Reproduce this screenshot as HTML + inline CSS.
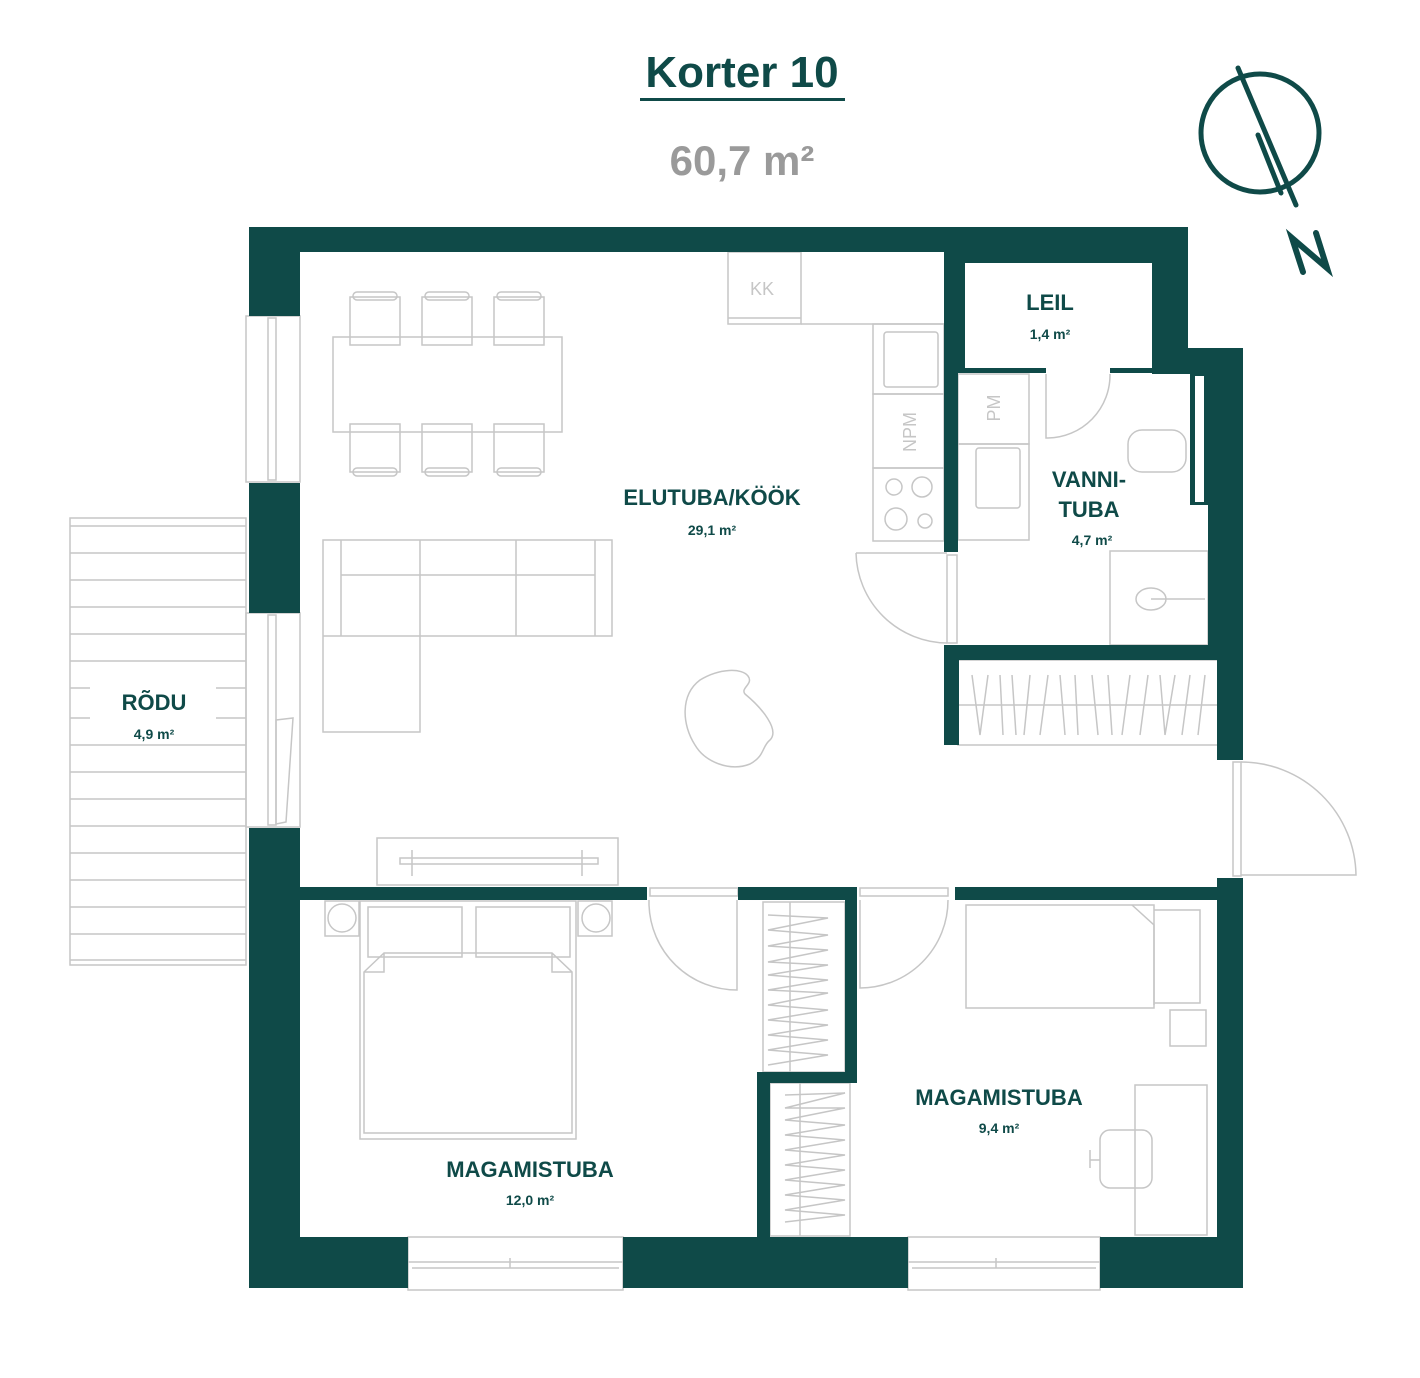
<!DOCTYPE html>
<html><head><meta charset="utf-8"><style>
html,body{margin:0;padding:0;background:#fff;}
svg{display:block;}
text{font-family:"Liberation Sans",sans-serif;fill:#0f4a48;}
</style></head><body>
<svg width="1420" height="1378" viewBox="0 0 1420 1378" xmlns="http://www.w3.org/2000/svg">
<text x="742" y="87" font-size="44" font-weight="bold" text-anchor="middle">Korter 10</text>
<rect x="640" y="98" width="205" height="3" fill="#0f4a48"/>
<text x="742" y="175" font-size="42" font-weight="bold" text-anchor="middle" style="fill:#9a9a9a">60,7 m²</text>
<g stroke="#0f4a48" stroke-width="5" fill="none" stroke-linecap="round">
<circle cx="1260" cy="133" r="59"/>
<line x1="1238" y1="68" x2="1296" y2="205"/>
<line x1="1258" y1="135" x2="1281" y2="193"/>
<polyline points="1303,272 1292,238 1327,268 1316,233" stroke-width="6"/>
</g>

<g stroke="#c6c6c6" stroke-width="1.5" fill="none">
<rect x="70" y="518" width="176" height="447"/>
<path d="M70 526H246M70 553H246M70 580H246M70 607H246M70 634H246M70 661H246M70 688H90M216 688H246M70 718H90M216 718H246M70 745H246M70 772H246M70 799H246M70 826H246M70 853H246M70 880H246M70 907H246M70 934H246M70 960H246"/>
<rect x="246" y="316" width="54" height="166"/><rect x="268" y="318" width="8" height="162"/>
<rect x="246" y="613" width="54" height="214"/><rect x="268" y="615" width="8" height="210"/>
<path d="M276 720L293 718 286 822 276 824Z"/>
<rect x="333" y="337" width="229" height="95"/>
<g>
<rect x="350" y="297" width="50" height="48"/><rect x="353" y="292" width="44" height="8" rx="4"/>
<rect x="422" y="297" width="50" height="48"/><rect x="425" y="292" width="44" height="8" rx="4"/>
<rect x="494" y="297" width="50" height="48"/><rect x="497" y="292" width="44" height="8" rx="4"/>
<rect x="350" y="424" width="50" height="48"/><rect x="353" y="468" width="44" height="8" rx="4"/>
<rect x="422" y="424" width="50" height="48"/><rect x="425" y="468" width="44" height="8" rx="4"/>
<rect x="494" y="424" width="50" height="48"/><rect x="497" y="468" width="44" height="8" rx="4"/>
</g>
<path d="M323 540H612V636H420V732H323Z"/>
<path d="M341 540V636M341 575H595M595 540V636M420 540V636M516 540V636M323 636H420"/>
<path d="M700 680C720 668 742 668 748 676C754 684 740 688 745 694C762 708 780 730 770 740C762 746 765 756 750 764C730 772 705 762 695 745C682 725 680 695 700 680Z"/>
<rect x="377" y="838" width="241" height="47"/>
<path d="M400 858H598V864H400Z M412 850V876 M582 850V876"/>
<rect x="728" y="252" width="73" height="72"/><path d="M728 318H801M801 324H944"/>
<rect x="873" y="324" width="71" height="70"/><rect x="884" y="332" width="54" height="55" rx="3"/>
<rect x="873" y="394" width="71" height="74"/>
<rect x="873" y="468" width="71" height="73"/>
<circle cx="894" cy="487" r="8"/><circle cx="922" cy="487" r="10"/><circle cx="896" cy="519" r="11"/><circle cx="925" cy="521" r="7"/>
<rect x="947" y="555" width="10" height="88"/>
<path d="M856 553H947M856 553A92 92 0 0 0 947 643"/>
<rect x="958" y="374" width="71" height="70"/><rect x="958" y="444" width="71" height="96"/>
<rect x="976" y="448" width="44" height="60" rx="3"/>
<path d="M1046 374V438H1048A63 63 0 0 0 1110 374"/>
<rect x="1128" y="430" width="58" height="42" rx="14"/>
<rect x="1110" y="551" width="98" height="94"/>
<ellipse cx="1151" cy="599" rx="15" ry="11"/><path d="M1151 599H1205"/>
<rect x="958" y="660" width="260" height="85"/><path d="M958 705H1218"/>
<path d="M972 675L980 735L988 675M1000 675L1003 735M1012 675L1016 735M1030 675L1024 735M1048 675L1040 735M1060 675L1065 735M1075 675L1078 735M1092 675L1098 735M1108 675L1112 735M1130 675L1122 735M1148 675L1140 735M1160 675L1165 735L1175 675M1190 675L1182 735M1205 675L1198 735"/>
<rect x="1233" y="762" width="8" height="114"/>
<path d="M1241 762A115 115 0 0 1 1356 875H1241"/>
<rect x="325" y="901" width="34" height="35"/><circle cx="342" cy="918" r="14"/>
<rect x="578" y="901" width="34" height="35"/><circle cx="596" cy="918" r="14"/>
<rect x="360" y="901" width="216" height="238"/>
<rect x="368" y="907" width="94" height="50"/><rect x="476" y="907" width="94" height="50"/>
<path d="M364 972L384 953H552L572 972V1133H364Z"/>
<path d="M384 953V972H364M552 953V972H572"/>
<path d="M649 900V905A88 88 0 0 0 737 990V900"/>
<rect x="650" y="888" width="88" height="8"/>
<rect x="408" y="1237" width="215" height="53"/><path d="M408 1262H623M412 1268H619M510 1258V1268"/>
<rect x="908" y="1237" width="192" height="53"/><path d="M908 1262H1100M912 1268H1096M996 1258V1268"/>
<rect x="763" y="902" width="82" height="170"/><path d="M790 902V1072"/>
<path d="M768 915L828 918L768 930L828 935L768 946L828 950L768 962L828 965L768 975L828 980L768 990L828 993L768 1005L828 1010L768 1020L828 1025L768 1035L828 1040L768 1050L828 1055L768 1065"/>
<rect x="770" y="1083" width="80" height="153"/><path d="M800 1083V1236"/>
<path d="M785 1095L845 1093L785 1108L845 1108L785 1120L845 1125L785 1135L845 1140L785 1150L845 1155L785 1165L845 1170L785 1180L845 1185L785 1195L845 1200L785 1210L845 1215L785 1222"/>
<path d="M860 900V988A88 88 0 0 0 948 900"/>
<rect x="860" y="888" width="88" height="8"/>
<rect x="966" y="905" width="188" height="103"/><path d="M1132 905L1154 925V1005M1154 910H1200V1003H1154"/>
<rect x="1170" y="1010" width="36" height="36"/>
<rect x="1135" y="1085" width="72" height="150"/>
<rect x="1100" y="1130" width="52" height="58" rx="10"/><path d="M1090 1160H1100M1090 1150V1168"/>
</g>

<g fill="#0f4a48">
<rect x="249" y="227" width="939" height="25"/>
<rect x="944" y="227" width="244" height="36"/>
<rect x="249" y="227" width="51" height="89"/>
<rect x="249" y="483" width="51" height="130"/>
<rect x="249" y="828" width="51" height="460"/>
<rect x="249" y="1237" width="159" height="51"/>
<rect x="623" y="1237" width="285" height="51"/>
<rect x="1100" y="1237" width="143" height="51"/>
<rect x="1152" y="227" width="36" height="147"/>
<rect x="1188" y="348" width="55" height="26"/>
<rect x="1208" y="348" width="35" height="300"/>
<rect x="1217" y="640" width="26" height="120"/>
<rect x="1217" y="878" width="26" height="410"/>
<rect x="944" y="252" width="21" height="120"/>
<rect x="944" y="368" width="102" height="5"/>
<rect x="1110" y="368" width="78" height="5"/>
<rect x="944" y="372" width="14" height="180"/>
<rect x="944" y="645" width="273" height="15"/>
<rect x="944" y="645" width="15" height="100"/>
<rect x="1190" y="372" width="18" height="133"/>
<rect x="300" y="887" width="347" height="13"/>
<rect x="738" y="887" width="119" height="13"/>
<rect x="955" y="887" width="262" height="13"/>
<rect x="845" y="887" width="12" height="196"/>
<rect x="757" y="1072" width="100" height="11"/>
<rect x="757" y="1072" width="13" height="170"/>
</g>
<rect x="1195" y="376" width="9" height="126" fill="#fff"/>

<g text-anchor="middle">
<text x="712" y="505" font-size="22" font-weight="bold">ELUTUBA/KÖÖK</text>
<text x="712" y="535" font-size="14" font-weight="bold">29,1 m²</text>
<text x="1050" y="310" font-size="22" font-weight="bold">LEIL</text>
<text x="1050" y="339" font-size="14" font-weight="bold">1,4 m²</text>
<text x="1089" y="487" font-size="22" font-weight="bold">VANNI-</text>
<text x="1089" y="517" font-size="22" font-weight="bold">TUBA</text>
<text x="1092" y="545" font-size="14" font-weight="bold">4,7 m²</text>
<text x="154" y="710" font-size="22" font-weight="bold">RÕDU</text>
<text x="154" y="739" font-size="14" font-weight="bold">4,9 m²</text>
<text x="530" y="1177" font-size="22" font-weight="bold">MAGAMISTUBA</text>
<text x="530" y="1205" font-size="14" font-weight="bold">12,0 m²</text>
<text x="999" y="1105" font-size="22" font-weight="bold">MAGAMISTUBA</text>
<text x="999" y="1133" font-size="14" font-weight="bold">9,4 m²</text>
<text x="762" y="295" font-size="18" style="fill:#c6c6c6">KK</text>
<text transform="translate(916,432) rotate(-90)" font-size="18" style="fill:#c6c6c6">NPM</text>
<text transform="translate(1000,408) rotate(-90)" font-size="18" style="fill:#c6c6c6">PM</text>
</g>
</svg>
</body></html>
